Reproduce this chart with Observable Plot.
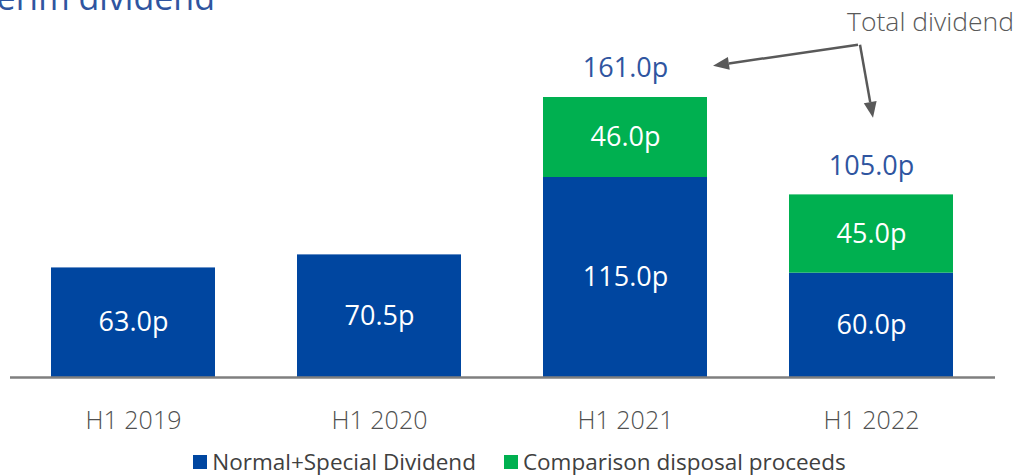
<!DOCTYPE html>
<html>
<head>
<meta charset="utf-8">
<script src="https://cdn.jsdelivr.net/npm/d3@7"></script>
<script src="https://cdn.jsdelivr.net/npm/@observablehq/plot@0.6"></script>
<style>
  html, body { margin: 0; padding: 0; background: #fff; }
  body { width: 1025px; height: 476px; overflow: hidden; position: relative; font-family: "Open Sans", sans-serif; }
  #title { position: absolute; right: 810px; top: -20px; font-size: 34px; line-height: 34px; color: #2F55A0; white-space: nowrap; }
  #chart { position: absolute; left: 0; top: 0; }
  #legend { position: absolute; left: 0; top: 447px; width: 1025px; height: 29px; display: flex; justify-content: center; align-items: center; padding-left: 14px; box-sizing: border-box; font-size: 22.5px; color: #404040; }
  .item { display: flex; align-items: center; margin: 0 14px; }
  .sw { width: 14px; height: 14px; margin-right: 5px; }
</style>
</head>
<body>
<div id="title">Interim dividend</div>
<div id="chart"></div>
<div id="legend"></div>
<script>
const categories = ["H1 2019", "H1 2020", "H1 2021", "H1 2022"];
const seriesNames = ["Normal+Special Dividend", "Comparison disposal proceeds"];
const normalSpecial = [63.0, 70.5, 115.0, 60.0];
const disposal = [0, 0, 46.0, 45.0];
const totals = [null, null, 161.0, 105.0];
const colors = ["#0046A0", "#00B050"];

const rows = [];
categories.forEach((c, i) => {
  rows.push({cat: c, series: seriesNames[0], value: normalSpecial[i], base: 0});
  if (disposal[i] > 0) rows.push({cat: c, series: seriesNames[1], value: disposal[i], base: normalSpecial[i]});
});
const labels = rows.map(d => ({cat: d.cat, mid: d.base + d.value / 2, text: d.value.toFixed(1) + "p"}));
const totalRows = categories.map((c, i) => ({cat: c, total: totals[i]})).filter(d => d.total != null);

// Arrow annotation from "Total dividend" to the two total labels
const annotation = {text: "Total dividend", cat: "H1 2022", value: 204};
const arrows = [
  {fromCat: "H1 2022", fromValue: 191, fromDx: -13, toCat: "H1 2021", toValue: 179, toDx: 88},
  {fromCat: "H1 2022", fromValue: 191, fromDx: -11, toCat: "H1 2022", toValue: 149, toDx: 2}
];

function arrowMark(index, scales) {
  const g = d3.create("svg:g");
  const cx = c => scales.x(c) + scales.x.bandwidth() / 2;
  for (const a of arrows) {
    const x1 = cx(a.fromCat) + a.fromDx, y1 = scales.y(a.fromValue);
    const x2 = cx(a.toCat) + a.toDx, y2 = scales.y(a.toValue);
    const ang = Math.atan2(y2 - y1, x2 - x1);
    const L = 16, W = 6.5;
    const bx = x2 - L * Math.cos(ang), by = y2 - L * Math.sin(ang);
    g.append("line").attr("x1", x1).attr("y1", y1).attr("x2", bx).attr("y2", by)
      .attr("stroke", "#595959").attr("stroke-width", 2.5);
    const px = -Math.sin(ang) * W, py = Math.cos(ang) * W;
    g.append("path")
      .attr("d", `M${x2},${y2}L${bx + px},${by + py}L${bx - px},${by - py}Z`)
      .attr("fill", "#595959");
  }
  return g.node();
}

const plot = Plot.plot({
  width: 1025,
  height: 447,
  marginTop: 0,
  marginRight: 30,
  marginLeft: 10,
  marginBottom: 70,
  style: {fontFamily: "Open Sans, sans-serif", background: "transparent"},
  x: {type: "band", domain: categories, paddingInner: 0.333, paddingOuter: 0.165, label: null},
  y: {domain: [0, 161], range: [377, 97], axis: null},
  color: {domain: seriesNames, range: colors},
  marks: [
    Plot.barY(rows, {x: "cat", y1: "base", y2: d => d.base + d.value, fill: "series"}),
    Plot.ruleY([0], {stroke: "#7f7f7f", strokeWidth: 2.5}),
    Plot.axisX({tickSize: 0, tickPadding: 34, fontSize: 25, fontWeight: 300, color: "#505050", fill: "#505050"}),
    Plot.text(labels, {x: "cat", y: "mid", text: "text", fill: "white", fontSize: 27}),
    Plot.text(totalRows, {x: "cat", y: "total", text: d => d.total.toFixed(1) + "p", dy: -29, fill: "#2F55A0", fontSize: 27}),
    Plot.text([annotation], {x: "cat", y: "value", text: "text", dx: 59, fill: "#595959", fontSize: 26.5, fontWeight: 300}),
    arrowMark
  ]
});
document.getElementById("chart").appendChild(plot);

const legend = document.getElementById("legend");
seriesNames.forEach((s, i) => {
  const it = document.createElement("div");
  it.className = "item";
  it.innerHTML = `<span class="sw" style="background:${colors[i]}"></span><span>${s}</span>`;
  legend.appendChild(it);
});
</script>
</body>
</html>
